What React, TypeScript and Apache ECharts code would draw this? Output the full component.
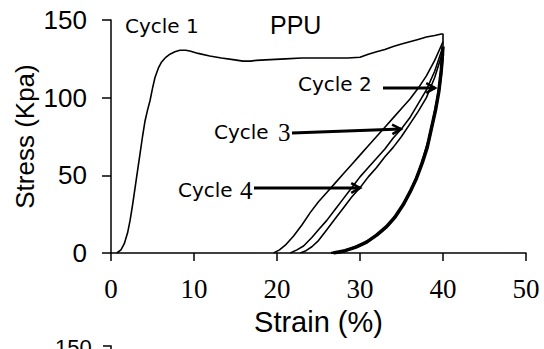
import React, { useEffect, useRef } from "react";
import * as echarts from "echarts";

const xTicks = [0, 10, 20, 30, 40, 50];
const yTicks = [0, 50, 100, 150];

const cycle1: number[][] = [
  [0.7, 0], [1.2, 2], [1.6, 6], [2, 13], [2.3, 21], [2.6, 31], [2.9, 42], [3.2, 53],
  [3.5, 64], [3.8, 75], [4.1, 85], [4.4, 92], [4.7, 98], [5, 106], [5.3, 113], [5.7, 119],
  [6.1, 123], [6.6, 126], [7.1, 128], [7.7, 129.5], [8.3, 130.5], [9, 130.5], [9.5, 130],
  [10.5, 128.5], [11.9, 126.8], [13.3, 125.5], [14.7, 124.5], [15.9, 123.5], [16.8, 123.5],
  [17.5, 124], [19.2, 124.5], [21, 125], [23, 125.5], [25, 125.5], [27, 125.5], [28.5, 125.5],
  [30, 126], [31, 128], [32, 129.5], [33, 131], [34, 133], [35, 134.5], [36, 136], [37, 137.5],
  [38, 139], [39, 140], [39.8, 141], [40, 141], [40, 133],
];

const reload1: number[][] = [
  [19.6, 0], [20.3, 2], [21, 5], [22, 11], [23, 18], [24, 26], [25, 33], [26, 39], [27, 45],
  [28, 51], [29, 57], [30, 63], [31, 69], [32, 75], [33, 81], [34, 87], [35, 93], [36, 99],
  [37, 106], [38, 114], [39, 124], [40, 136],
];

const reload2: number[][] = [
  [21.6, 0], [22.4, 2], [23.2, 4.5], [24.2, 10], [25, 15], [26, 21], [27, 28], [28, 35],
  [29, 42], [30, 49], [31, 55], [32, 61], [33, 67], [34, 74], [35, 80], [36, 87], [37, 96],
  [38, 105], [39, 117], [40, 133],
];

const reload3: number[][] = [
  [22.8, 0], [23.5, 1.5], [24.2, 4], [25, 8], [26, 15], [27, 22], [28, 29], [29, 36],
  [30, 42], [31, 49], [32, 55], [33, 62], [34, 68], [35, 75], [36, 83], [37, 91], [38, 100],
  [39, 113], [40, 130],
];

const unloadA: number[][] = [
  [40, 133], [39.8, 118], [39.5, 104], [39.1, 92], [38.6, 80], [38.1, 68], [37.5, 58],
  [36.8, 48], [36, 39], [35.2, 31], [34.2, 23], [33.2, 17], [32, 11.5], [30.8, 7],
  [29.5, 3.8], [28.2, 1.5], [26.8, 0],
];

const unloadB: number[][] = [
  [40, 128], [39.7, 112], [39.3, 98], [38.8, 85], [38.3, 73], [37.7, 62], [37, 51],
  [36.2, 41], [35.4, 33], [34.5, 25], [33.5, 18.5], [32.4, 13], [31.2, 8.5], [30, 5],
  [28.8, 2.5], [27.5, 0.5], [26.5, 0],
];

const cycleLabels = ["Cycle 1", "Cycle 2", "Cycle", "Cycle"];
const cycleDigits = ["3", "4"];
const title = "PPU";
const xName = "Strain (%)";
const yName = "Stress (Kpa)";

function lineSeries(data: number[][], width: number) {
  return {
    type: "line",
    data,
    showSymbol: false,
    symbol: "none",
    smooth: false,
    lineStyle: { color: "#000", width },
    silent: true,
  };
}

function arrow(x1: number, y1: number, x2: number, y2: number) {
  const ang = Math.atan2(y2 - y1, x2 - x1);
  const len = 10;
  const spread = 0.5;
  const p1 = [x2 - len * Math.cos(ang - spread), y2 - len * Math.sin(ang - spread)];
  const p2 = [x2 - len * Math.cos(ang + spread), y2 - len * Math.sin(ang + spread)];
  return [
    {
      type: "line",
      shape: { x1, y1, x2, y2 },
      style: { stroke: "#000", lineWidth: 3 },
    },
    {
      type: "polyline",
      shape: { points: [p1, [x2, y2], p2] },
      style: { stroke: "#000", lineWidth: 2.5, fill: null },
    },
  ];
}

export default function App() {
  const ref = useRef<HTMLDivElement>(null);
  useEffect(() => {
    if (!ref.current) return;
    document.body.style.margin = "0";
    const chart = echarts.init(ref.current, null, { renderer: "svg" });
    const sans = "DejaVu Sans";
    const cyc = `20px "${sans}"`;
    const dig = `25px "Liberation Serif"`;
    chart.setOption({
      animation: false,
      backgroundColor: "#fff",
      grid: { left: 111, right: 18, top: 20, bottom: 96, containLabel: false, outerBoundsMode: "none" },
      xAxis: {
        type: "value",
        min: xTicks[0],
        max: xTicks[xTicks.length - 1],
        interval: 10,
        name: xName,
        nameLocation: "middle",
        nameGap: 54,
        nameMoveOverlap: false,
        nameTextStyle: { fontFamily: "Liberation Sans", fontSize: 29, color: "#000" },
        axisLine: { onZero: false, lineStyle: { color: "#000", width: 1.5 } },
        axisTick: { show: true, length: 8, inside: false, lineStyle: { color: "#000", width: 1.5 } },
        axisLabel: { fontFamily: "Liberation Serif", fontSize: 27, color: "#000", margin: 22 },
        splitLine: { show: false },
      },
      yAxis: {
        type: "value",
        min: yTicks[0],
        max: yTicks[yTicks.length - 1],
        interval: 50,
        name: yName,
        nameLocation: "middle",
        nameGap: 73,
        nameMoveOverlap: false,
        nameTextStyle: { fontFamily: "Liberation Sans", fontSize: 26, color: "#000" },
        axisLine: { onZero: false, lineStyle: { color: "#000", width: 1.5 } },
        axisTick: { show: true, length: 9, inside: false, lineStyle: { color: "#000", width: 1.5 } },
        axisLabel: { fontFamily: "Liberation Sans", fontSize: 26, color: "#000", margin: 24 },
        splitLine: { show: false },
      },
      series: [
        lineSeries(cycle1, 1.6),
        lineSeries(reload1, 1.6),
        lineSeries(reload2, 1.6),
        lineSeries(reload3, 1.6),
        lineSeries(unloadA, 3.5),
        lineSeries(unloadB, 2.5),
      ],
      graphic: [
        { type: "text", x: 125, y: 16, style: { text: cycleLabels[0], font: cyc, fill: "#000" } },
        { type: "text", x: 270, y: 12, style: { text: title, font: `25px "Liberation Sans"`, fill: "#000" } },
        { type: "text", x: 298, y: 74, style: { text: cycleLabels[1], font: cyc, fill: "#000" } },
        { type: "text", x: 214, y: 122, style: { text: cycleLabels[2], font: cyc, fill: "#000" } },
        { type: "text", x: 278, y: 120, style: { text: cycleDigits[0], font: dig, fill: "#000" } },
        { type: "text", x: 178, y: 180, style: { text: cycleLabels[3], font: cyc, fill: "#000" } },
        { type: "text", x: 240, y: 178, style: { text: cycleDigits[1], font: dig, fill: "#000" } },
        ...arrow(383, 88, 435, 88),
        ...arrow(292, 133, 401, 129),
        ...arrow(254, 188, 360, 188),
        {
          type: "text",
          x: 55,
          y: 336,
          style: { text: "150", font: `22px "Liberation Sans"`, fill: "#000" },
        },
        {
          type: "polyline",
          shape: { points: [[103, 346], [111, 346], [111, 349]] },
          style: { stroke: "#000", lineWidth: 1.5, fill: null },
        },
      ],
    });
    return () => chart.dispose();
  }, []);
  return <div ref={ref} style={{ width: 544, height: 349 }} />;
}
